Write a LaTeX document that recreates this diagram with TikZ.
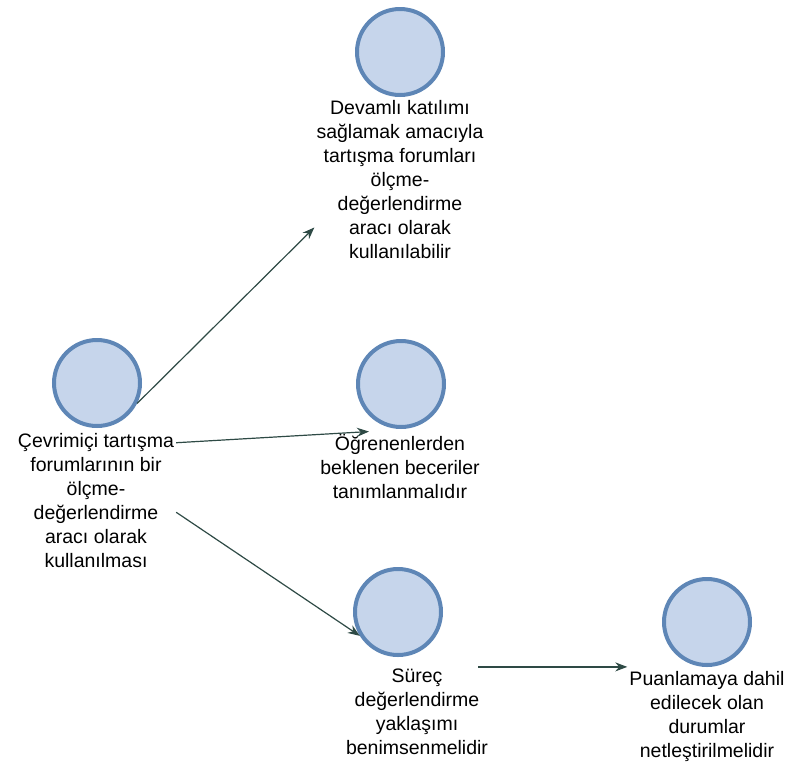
\documentclass[tikz,border=0pt]{standalone}
\usepackage{fontspec}
\setmainfont{Liberation Sans}
\usetikzlibrary{arrows.meta}
\definecolor{ballfill}{HTML}{C6D5EB}
\definecolor{ballline}{HTML}{5E86B6}
\definecolor{linkcol}{HTML}{2E4A45}
\tikzset{
	ball/.style={circle, minimum size=86pt, inner sep=0pt, fill=ballfill, draw=ballline, line width=4pt},
	caption/.style={align=center, inner sep=2pt, font=\fontsize{19.5}{24}\selectfont},
	link/.style={draw=linkcol, line width=1.2pt, -{Stealth[length=12pt,width=9pt]}}
}

\begin{document}
\begin{tikzpicture}[x=1pt, y=-1pt]
			%%%%% START %%%%%
			
			\useasboundingbox (0, 0) rectangle (790, 764);
			
			\node[ball] (c0) at (97, 383) {};
			\node[caption] (t0) at (96, 501) {Çevrimiçi tartışma\\forumlarının bir\\ölçme-\\değerlendirme\\aracı olarak\\kullanılması};
			
			\node[ball] (c1) at (400, 52) {};
			\node[caption] (t1) at (400, 180) {Devamlı katılımı\\sağlamak amacıyla\\tartışma forumları\\ölçme-\\değerlendirme\\aracı olarak\\kullanılabilir};
			
			\node[ball] (c2) at (401, 384) {};
			\node[caption] (t2) at (400, 466) {Öğrenenlerden\\beklenen beceriler\\tanımlanmalıdır};
			
			\node[ball] (c3) at (398, 612) {};
			\node[caption] (t3) at (417, 712) {Süreç\\değerlendirme\\yaklaşımı\\benimsenmelidir};
			
			\node[ball] (c4) at (707, 622) {};
			\node[caption] (t4) at (707, 716) {Puanlamaya dahil\\edilecek olan\\durumlar\\netleştirilmelidir};
			
			\draw[link] (c0.-27) -- (t1.209);
			\draw[link] (t0.36) -- (t2.132);
			\draw[link] (t0.-8) -- (c3.212);
			\draw[link, shorten <=-12pt] (t3.north east) -- (t4.north west |- t3.north east);
			
			%%%%% END %%%%%
\end{tikzpicture}
\end{document}
